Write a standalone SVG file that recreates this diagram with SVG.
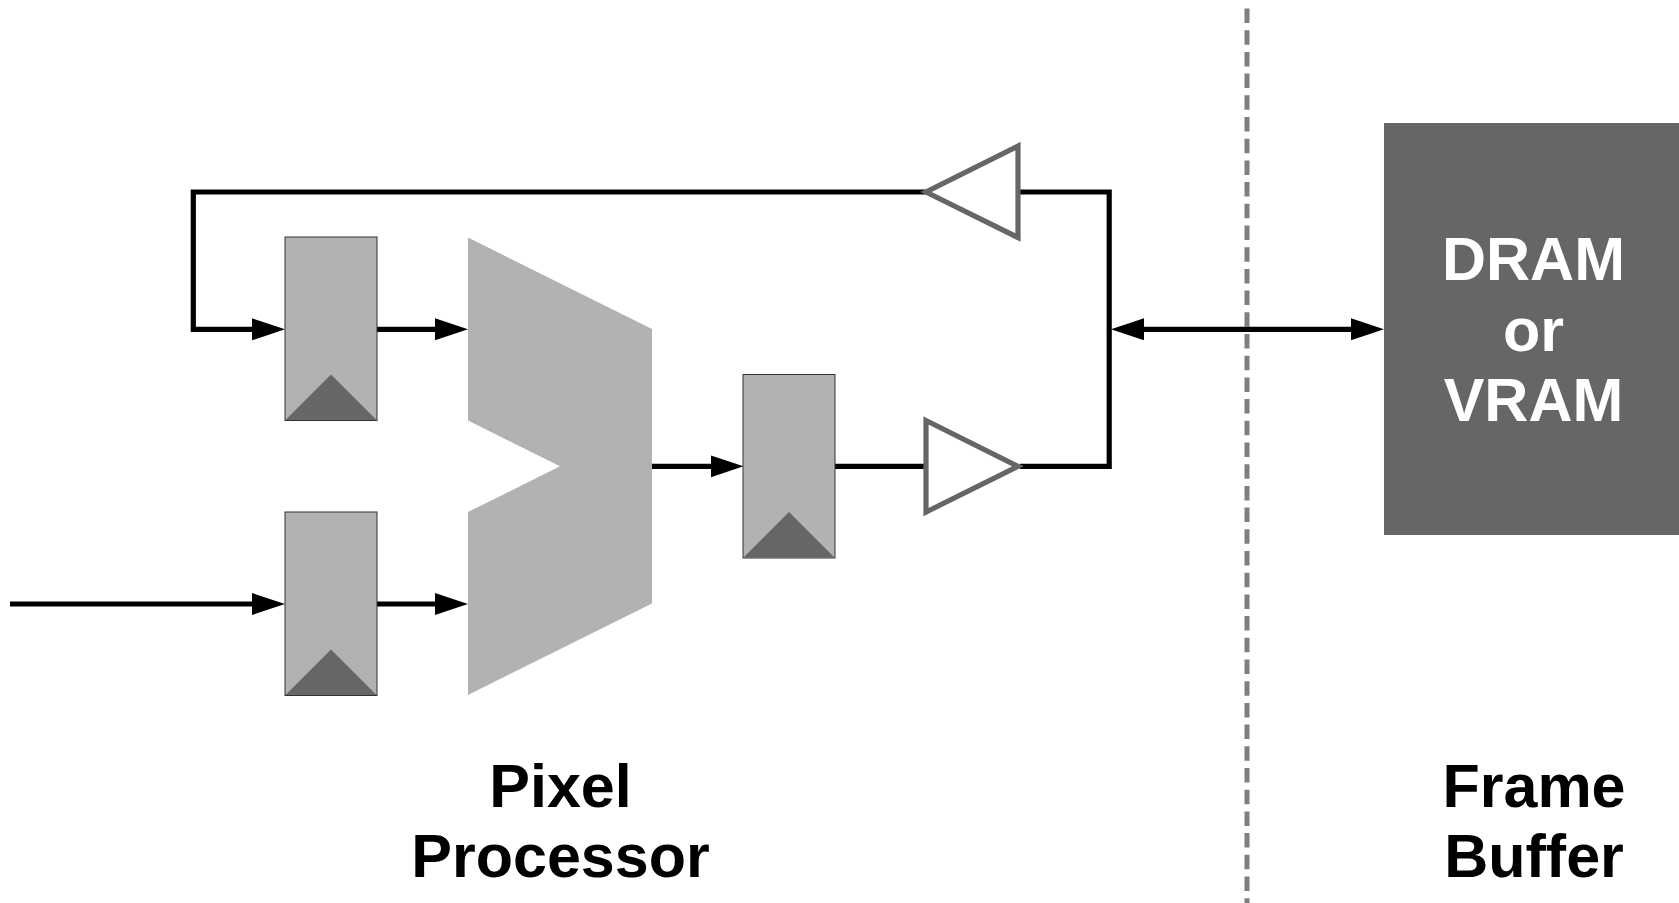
<svg xmlns="http://www.w3.org/2000/svg" width="1679" height="903" viewBox="0 0 1679 903">
<style>
.reg{fill:#b2b2b2;stroke:#333;stroke-width:1}
.clk{fill:#666}
.wire{fill:none;stroke:#000;stroke-width:5.2}
.buf{fill:#fff;stroke:#666;stroke-width:5.2}
.lbl{font-family:"Liberation Sans",Arial,sans-serif;font-weight:bold;font-size:61px;text-anchor:middle}
</style>
<defs>
<marker id="arr" markerUnits="userSpaceOnUse" markerWidth="34" markerHeight="24" refX="13" refY="11" orient="auto-start-reverse"><path d="M0,0L33,11L0,22Z" fill="#000"/></marker>
</defs>
<rect width="1679" height="903" fill="#fff"/>
<line id="divider" x1="1247" y1="8.5" x2="1247" y2="903" stroke="#7f7f7f" stroke-width="5" stroke-dasharray="14.5 7.2"/>
<g id="connectors">
<path class="wire" d="M926,192H193.3V329.3H265" marker-end="url(#arr)"/>
<path class="wire" d="M377,329.3H448" marker-end="url(#arr)"/>
<path class="wire" d="M10,604H265" marker-end="url(#arr)"/>
<path class="wire" d="M377,604H448" marker-end="url(#arr)"/>
<path class="wire" d="M652,466.3H723.5" marker-end="url(#arr)"/>
<path class="wire" d="M835,466.3H926"/>
<path class="wire" d="M1020,466.3H1109.2V192H1018"/>
<path class="wire" d="M1131,329.3H1364" marker-start="url(#arr)" marker-end="url(#arr)"/>
</g>
<g id="reg1"><rect class="reg" x="285" y="237" width="92" height="183.5"/><path class="clk" d="M285.5,420L331,374.5L376.5,420Z"/></g>
<g id="reg2"><rect class="reg" x="285" y="512" width="92" height="183.5"/><path class="clk" d="M285.5,695L331,649.5L376.5,695Z"/></g>
<g id="reg3"><rect class="reg" x="743" y="374.5" width="92" height="183.5"/><path class="clk" d="M743.5,557.5L789,512L834.5,557.5Z"/></g>
<g id="mux"><path fill="#b2b2b2" d="M468,237.5L652,329V603.5L468,695V512L560,466.3L468,420.5Z"/></g>
<g id="buf-out"><path class="buf" d="M926,420.5L1018,466.3L926,512Z"/></g>
<g id="buf-in"><path class="buf" d="M1018,146L926,192L1018,237.5Z"/></g>
<g id="fb"><rect x="1384" y="123" width="295" height="412" fill="#666"/>
<text class="lbl" fill="#fff" x="1533.5" y="280">DRAM</text>
<text class="lbl" fill="#fff" x="1533.5" y="350.5">or</text>
<text class="lbl" fill="#fff" x="1533.5" y="421">VRAM</text></g>
<g id="label-pp"><text class="lbl" x="560.5" y="807">Pixel</text><text class="lbl" x="560.5" y="877">Processor</text></g>
<g id="label-fb"><text class="lbl" x="1534" y="807">Frame</text><text class="lbl" x="1534" y="877">Buffer</text></g>
</svg>
